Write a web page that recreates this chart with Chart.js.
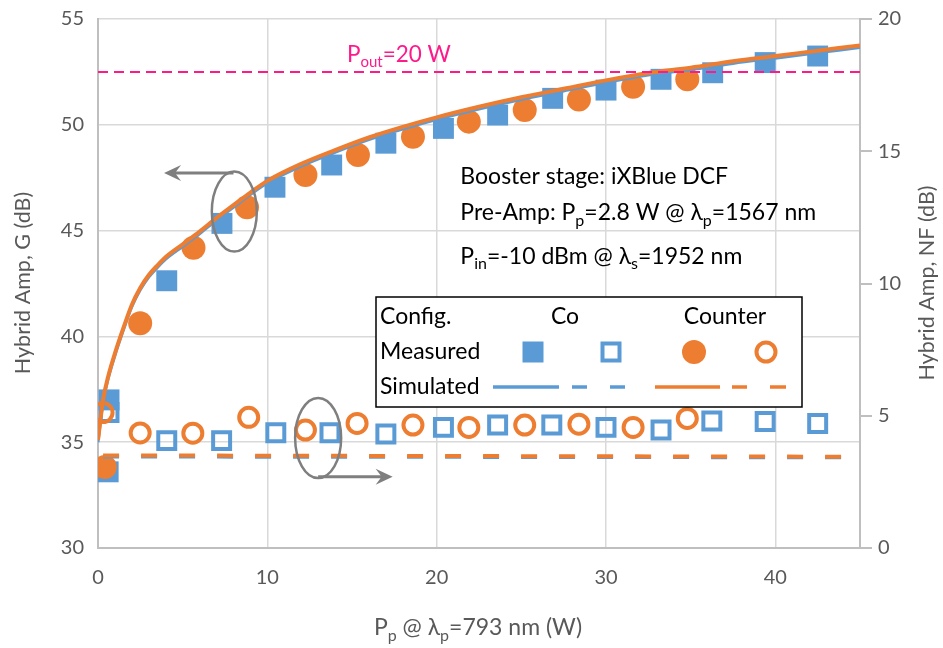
<!DOCTYPE html>
<html>
<head>
<meta charset="utf-8">
<script src="https://cdn.jsdelivr.net/npm/chart.js@4.4.0/dist/chart.umd.min.js"></script>
<style>
  html, body { margin: 0; padding: 0; background: #fff; }
  #wrap { width: 943px; height: 648px; }
</style>
</head>
<body>
<div id="wrap"><canvas id="chart" width="943" height="648"></canvas></div>
<script>
const pumpCoG = [0.6, 0.65, 4.06, 7.32, 10.45, 13.8, 17.0, 20.4, 23.6, 26.85, 30.0, 33.25, 36.3, 39.4, 42.5];
const gainCo = [33.6, 37.0, 42.63, 45.34, 47.05, 48.1, 49.13, 49.83, 50.46, 51.25, 51.64, 52.15, 52.46, 52.94, 53.25];

const pumpCoNF = [0.65, 4.06, 7.3, 10.5, 13.7, 17.0, 20.4, 23.6, 26.8, 30.0, 33.25, 36.25, 39.4, 42.5];
const nfCo = [5.12, 4.06, 4.06, 4.36, 4.36, 4.31, 4.56, 4.65, 4.65, 4.56, 4.46, 4.80, 4.78, 4.71];

const pumpCounterG = [0.4, 2.49, 5.64, 8.8, 12.25, 15.35, 18.6, 21.9, 25.2, 28.4, 31.6, 34.8];
const gainCounter = [33.83, 40.62, 44.19, 46.1, 47.63, 48.57, 49.44, 50.15, 50.7, 51.2, 51.8, 52.15];

const pumpCounterNF = [0.3, 2.49, 5.6, 8.9, 12.25, 15.3, 18.6, 21.9, 25.2, 28.4, 31.6, 34.8];
const nfCounter = [5.12, 4.35, 4.34, 4.94, 4.46, 4.71, 4.65, 4.56, 4.65, 4.68, 4.56, 4.90];

// simulated curves
const pumpSim = [0, 0.3, 0.6, 1, 1.5, 2, 2.5, 3, 3.5, 4, 5, 6, 7, 8, 9, 10, 12, 14, 16, 18, 20, 22.5, 25, 27.5, 30, 32.5, 35, 37.5, 40, 42.5, 45];
const simGainCounter = [35.1, 37.0, 38.1, 39.2, 40.4, 41.5, 42.3, 42.9, 43.35, 43.75, 44.35, 44.95, 45.6, 46.2, 46.8, 47.35, 48.15, 48.8, 49.4, 49.9, 50.35, 50.85, 51.3, 51.7, 52.1, 52.45, 52.7, 53.0, 53.25, 53.5, 53.75];
const simGainCo = [35.0, 36.9, 38.0, 39.1, 40.3, 41.4, 42.2, 42.8, 43.25, 43.65, 44.25, 44.85, 45.5, 46.1, 46.7, 47.25, 48.05, 48.7, 49.3, 49.8, 50.25, 50.75, 51.2, 51.6, 52.0, 52.35, 52.6, 52.9, 53.15, 53.4, 53.65];

const pumpSimNF = [0.3, 45];
const simNFCounter = [3.5, 3.45];
const simNFCo = [3.45, 3.42];

const pumpPout = [0, 45];
const gainPout = [52.5, 52.5];

const xTicks = [0, 10, 20, 30, 40];

const BLUE = '#5b9bd5';
const ORANGE = '#ed7d31';
const PINK = '#ff1a8c';
const GREY = '#595959';
const FONT = "Lato, 'Noto Sans', sans-serif";

function pts(xs, ys) {
    return xs.map((x, i) => ({ x: x, y: ys[i] }));
}

// text with subscripts: parts = [[text, isSub], ...]
function richWidth(ctx, parts, size) {
    let w = 0;
    parts.forEach(([t, sub]) => {
        ctx.font = (sub ? Math.round(size * 0.68) : size) + 'px ' + FONT;
        w += ctx.measureText(t).width;
    });
    return w;
}
function rich(ctx, x, y, parts, size, color, align) {
    ctx.save();
    ctx.fillStyle = color;
    ctx.textBaseline = 'middle';
    ctx.textAlign = 'left';
    let cx = x;
    if (align === 'center') cx = x - richWidth(ctx, parts, size) / 2;
    parts.forEach(([t, sub]) => {
        ctx.font = (sub ? Math.round(size * 0.68) : size) + 'px ' + FONT;
        ctx.fillText(t, cx, sub ? y + size * 0.32 : y);
        cx += ctx.measureText(t).width;
    });
    ctx.restore();
}

function arrow(ctx, x1, y1, x2, y2) {
    const a = Math.atan2(y2 - y1, x2 - x1);
    ctx.save();
    ctx.strokeStyle = '#7f7f7f';
    ctx.fillStyle = '#7f7f7f';
    ctx.lineWidth = 3;
    ctx.beginPath();
    ctx.moveTo(x1, y1);
    ctx.lineTo(x2 - 8 * Math.cos(a), y2 - 8 * Math.sin(a));
    ctx.stroke();
    ctx.translate(x2, y2);
    ctx.rotate(a);
    ctx.beginPath();
    ctx.moveTo(0, 0);
    ctx.lineTo(-17, -8);
    ctx.lineTo(-11, 0);
    ctx.lineTo(-17, 8);
    ctx.closePath();
    ctx.fill();
    ctx.restore();
}

function ellipse(ctx, cx, cy, rx, ry) {
    ctx.save();
    ctx.strokeStyle = '#7f7f7f';
    ctx.lineWidth = 2.5;
    ctx.beginPath();
    ctx.ellipse(cx, cy, rx, ry, 0, 0, Math.PI * 2);
    ctx.stroke();
    ctx.restore();
}

const extras = {
    id: 'extras',
    afterDatasetsDraw(chart) {
        const ctx = chart.ctx;
        const sx = chart.scales.x, sy = chart.scales.y;
        const px = v => sx.getPixelForValue(v);
        const py = v => sy.getPixelForValue(v);

        // axis titles
        ctx.save();
        ctx.translate(23, 283);
        ctx.rotate(-Math.PI / 2);
        rich(ctx, 0, 0, [['Hybrid Amp, G (dB)', false]], 21.5, GREY, 'center');
        ctx.restore();
        ctx.save();
        ctx.translate(927, 283);
        ctx.rotate(-Math.PI / 2);
        rich(ctx, 0, 0, [['Hybrid Amp, NF (dB)', false]], 21.5, GREY, 'center');
        ctx.restore();
        rich(ctx, 478, 628, [['P', false], ['p', true], [' @ \u03bb', false], ['p', true], ['=793 nm (W)', false]], 23, GREY, 'center');

        // P_out label
        rich(ctx, px(14.7), py(53.3), [['P', false], ['out', true], ['=20 W', false]], 22.5, PINK);

        // conditions text
        rich(ctx, px(21.4), py(47.55), [['Booster stage: iXBlue DCF', false]], 23, '#000');
        rich(ctx, px(21.4), py(45.83), [['Pre-Amp: P', false], ['p', true], ['=2.8 W @ \u03bb', false], ['p', true], ['=1567 nm', false]], 23, '#000');
        rich(ctx, px(21.4), py(43.77), [['P', false], ['in', true], ['=-10 dBm @ \u03bb', false], ['s', true], ['=1952 nm', false]], 23, '#000');

        // ellipses + arrows pointing at the axes
        ellipse(ctx, px(8.05), py(45.9), 22.5, 40);
        arrow(ctx, px(8.0), py(47.72), px(3.9), py(47.72));
        ellipse(ctx, px(13.0), py(35.2), 23, 40);
        arrow(ctx, px(13.0), py(33.37), px(17.4), py(33.37));

        // legend box
        ctx.save();
        ctx.fillStyle = '#fff';
        ctx.fillRect(376, 297, 426, 110);
        ctx.strokeStyle = '#000';
        ctx.lineWidth = 1.5;
        ctx.strokeRect(376, 297, 426, 110);
        ctx.restore();
        rich(ctx, 380, 317, [['Config.', false]], 23, '#000');
        rich(ctx, 380, 352, [['Measured', false]], 23, '#000');
        rich(ctx, 380, 387, [['Simulated', false]], 23, '#000');
        rich(ctx, 565, 317, [['Co', false]], 23, '#000', 'center');
        rich(ctx, 725, 317, [['Counter', false]], 23, '#000', 'center');

        ctx.save();
        ctx.fillStyle = BLUE;
        ctx.fillRect(533 - 10.5, 352 - 10.5, 21, 21);
        ctx.strokeStyle = BLUE;
        ctx.lineWidth = 4;
        ctx.strokeRect(611 - 8.5, 352 - 8.5, 17, 17);
        ctx.fillStyle = ORANGE;
        ctx.beginPath();
        ctx.arc(694, 352, 12, 0, Math.PI * 2);
        ctx.fill();
        ctx.strokeStyle = ORANGE;
        ctx.beginPath();
        ctx.arc(766, 352, 9.5, 0, Math.PI * 2);
        ctx.stroke();

        ctx.lineWidth = 3.5;
        ctx.strokeStyle = BLUE;
        [[493, 559], [572, 587], [610, 625]].forEach(([a, b]) => {
            ctx.beginPath(); ctx.moveTo(a, 387); ctx.lineTo(b, 387); ctx.stroke();
        });
        ctx.strokeStyle = ORANGE;
        [[655, 720], [732, 747], [770, 786]].forEach(([a, b]) => {
            ctx.beginPath(); ctx.moveTo(a, 387); ctx.lineTo(b, 387); ctx.stroke();
        });
        ctx.restore();
    }
};

const ctx = document.getElementById('chart').getContext('2d');
new Chart(ctx, {
    type: 'scatter',
    data: {
        datasets: [
            {
                label: 'Pout',
                data: pts(pumpPout, gainPout),
                showLine: true,
                borderColor: PINK,
                borderWidth: 2,
                borderDash: [10, 6],
                pointRadius: 0,
                yAxisID: 'y'
            },
            {
                label: 'Sim Counter G',
                data: pts(pumpSim, simGainCounter),
                showLine: true,
                borderColor: ORANGE,
                borderWidth: 4,
                pointRadius: 0,
                cubicInterpolationMode: 'monotone',
                yAxisID: 'y'
            },
            {
                label: 'Sim Co G',
                data: pts(pumpSim, simGainCo),
                showLine: true,
                borderColor: BLUE,
                borderWidth: 3,
                pointRadius: 0,
                cubicInterpolationMode: 'monotone',
                yAxisID: 'y'
            },
            {
                label: 'Sim Counter NF',
                data: pts(pumpSimNF, simNFCounter),
                showLine: true,
                borderColor: ORANGE,
                borderWidth: 4,
                borderDash: [16, 22],
                pointRadius: 0,
                yAxisID: 'y2'
            },
            {
                label: 'Sim Co NF',
                data: pts(pumpSimNF, simNFCo),
                showLine: true,
                borderColor: BLUE,
                borderWidth: 3.5,
                borderDash: [16, 22],
                pointRadius: 0,
                yAxisID: 'y2'
            },
            {
                label: 'Counter NF',
                data: pts(pumpCounterNF, nfCounter),
                pointStyle: 'circle',
                pointRadius: 9.5,
                pointBorderWidth: 4,
                pointBorderColor: ORANGE,
                pointBackgroundColor: 'rgba(255,255,255,0)',
                yAxisID: 'y2'
            },
            {
                label: 'Co NF',
                data: pts(pumpCoNF, nfCo),
                pointStyle: 'rect',
                pointRadius: 12,
                pointBorderWidth: 4,
                pointBorderColor: BLUE,
                pointBackgroundColor: 'rgba(255,255,255,0)',
                yAxisID: 'y2'
            },
            {
                label: 'Counter G',
                data: pts(pumpCounterG, gainCounter),
                pointStyle: 'circle',
                pointRadius: 12,
                pointBorderWidth: 0,
                pointBackgroundColor: ORANGE,
                yAxisID: 'y'
            },
            {
                label: 'Co G',
                data: pts(pumpCoG, gainCo),
                pointStyle: 'rect',
                pointRadius: 14.8,
                pointBorderWidth: 0,
                pointBackgroundColor: BLUE,
                yAxisID: 'y'
            }
        ]
    },
    options: {
        responsive: false,
        animation: false,
        layout: { autoPadding: false, padding: { top: 19, left: 0, right: 0, bottom: 0 } },
        plugins: {
            legend: { display: false },
            tooltip: { enabled: false }
        },
        scales: {
            x: {
                type: 'linear',
                min: 0,
                max: 45,
                afterBuildTicks: s => { s.ticks = xTicks.map(v => ({ value: v })).concat([{ value: 45 }]); },
                afterFit: s => { s.height = 100; },
                ticks: {
                    font: { family: FONT, size: 20 },
                    color: GREY,
                    padding: 18,
                    callback: v => (xTicks.includes(v) ? String(v) : '')
                },
                grid: { color: '#d9d9d9', lineWidth: 1.5, drawTicks: false },
                border: { color: '#bfbfbf', width: 2 }
            },
            y: {
                position: 'left',
                min: 30,
                max: 55,
                afterFit: s => { s.width = 98; },
                ticks: {
                    stepSize: 5,
                    font: { family: FONT, size: 20 },
                    color: GREY,
                    padding: 7
                },
                grid: { color: '#d9d9d9', lineWidth: 1.5, drawTicks: true, tickLength: 7, tickColor: 'rgba(0,0,0,0)' },
                border: { color: '#bfbfbf', width: 2 }
            },
            y2: {
                position: 'right',
                min: 0,
                max: 20,
                afterFit: s => { s.width = 943 - 860; },
                ticks: {
                    stepSize: 5,
                    font: { family: FONT, size: 20 },
                    color: GREY,
                    padding: 6
                },
                grid: { drawOnChartArea: false, color: '#bfbfbf', lineWidth: 2, tickLength: 12 },
                border: { color: '#bfbfbf', width: 2 }
            }
        }
    },
    plugins: [extras]
});
</script>
</body>
</html>
